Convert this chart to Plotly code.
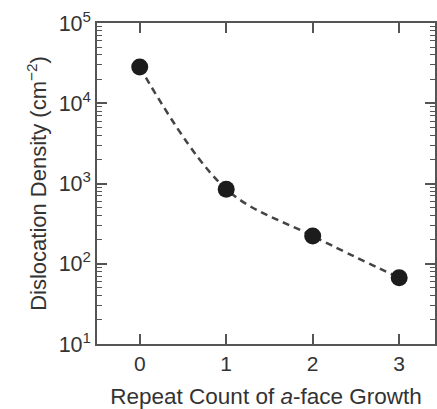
import plotly.graph_objects as go

repeat_count = [0, 1, 2, 3]
dislocation_density = [28300, 850, 222, 67]
y_tick_vals = [10, 100, 1000, 10000, 100000]
y_tick_text = ["10<sup>1</sup>", "10<sup>2</sup>", "10<sup>3</sup>", "10<sup>4</sup>", "10<sup>5</sup>"]
x_tick_vals = [0, 1, 2, 3]

FONT = "Liberation Sans, Arial, sans-serif"
TXT = "#333333"
AX = "#555555"

fig = go.Figure()
fig.add_trace(go.Scatter(
    x=repeat_count, y=dislocation_density, mode="lines",
    line=dict(color="#444444", width=2.5, dash="7px,5px", shape="spline", smoothing=1.0),
    hoverinfo="skip", showlegend=False))
fig.add_trace(go.Scatter(
    x=repeat_count, y=dislocation_density, mode="markers",
    marker=dict(color="#1c1c1c", size=17, line=dict(width=0)),
    showlegend=False))

fig.update_layout(
    width=437, height=409,
    margin=dict(l=97, r=0, t=23, b=65),
    paper_bgcolor="white", plot_bgcolor="white",
    font=dict(family=FONT, color=TXT, size=20),
    xaxis=dict(
        range=[-0.494, 3.414], tickvals=x_tick_vals, ticktext=[str(v) for v in x_tick_vals],
        ticks="inside", ticklen=10, tickwidth=1.5, tickcolor=AX,
        showline=True, linecolor=AX, linewidth=1.5, mirror="ticks",
        showgrid=False, zeroline=False,
        tickfont=dict(size=21, color=TXT),
        title=dict(text="Repeat Count of <i>a</i>-face Growth", font=dict(size=22.5, color=TXT), standoff=14),
    ),
    yaxis=dict(
        type="log", range=[1, 5], tickvals=y_tick_vals, ticktext=y_tick_text,
        ticks="inside", ticklen=10, tickwidth=1.5, tickcolor=AX,
        minor=dict(ticks="inside", ticklen=5, tickwidth=1, tickcolor=AX, showgrid=False, dtick="D1"),
        showline=True, linecolor=AX, linewidth=1.5, mirror="ticks",
        showgrid=False, zeroline=False,
        tickfont=dict(size=21.5, color=TXT),
        title=dict(text="Dislocation Density (cm<sup>−2</sup>)", font=dict(size=22, color=TXT), standoff=6),
    ),
)

fig.write_html("out.html")
